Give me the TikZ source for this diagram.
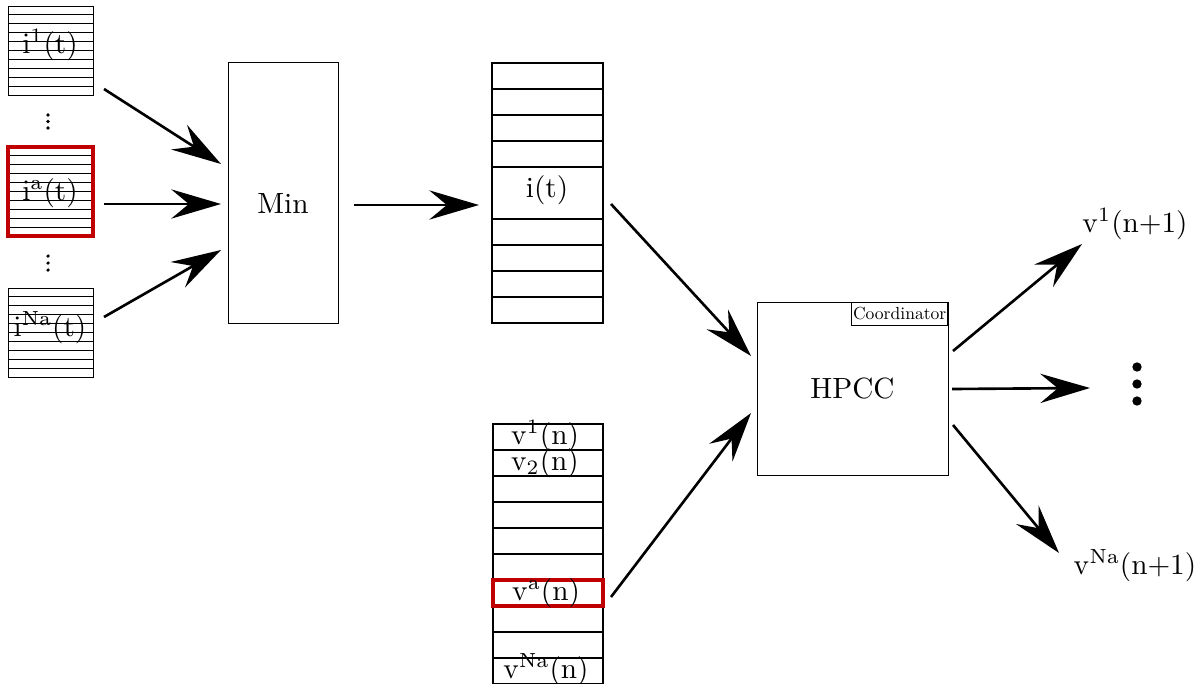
\documentclass[tikz,border=0pt]{standalone}
\usetikzlibrary{arrows.meta}
\definecolor{darkred}{RGB}{192,0,0}
\tikzset{
  arr/.style={line width=0.9pt,-{Stealth[length=17pt,width=10pt,inset=6pt]}},
  lbl/.style={text height=7.5pt,text depth=2.5pt,inner sep=0pt},
  mark red/.style={darkred,line width=1.2pt},
}

\begin{document}
\begin{tikzpicture}[x=0.342pt,y=-0.342pt]
\useasboundingbox (0,0) rectangle (1200,683);
% input buffers
\foreach \t/\nm/\lab/\ly in {6/inone/1/46, 147/ina/a/193, 288/inna/Na/329} {
  \draw [line width=0.3pt] (8,\t) rectangle (93,\t+89);
  \foreach \k in {1,...,9} \draw [line width=0.3pt] (8,\t+\k*8.9) -- (93,\t+\k*8.9);
  \node [lbl] (\nm) at (50,\ly) {$\mathrm{i^{\lab}(t)}$};
}
\draw [mark red] (8,147) rectangle (93,236);
\foreach \y in {115,121.5,128,256,263,270} \fill (48,\y) circle [radius=0.6pt];
% min block
\draw [line width=0.3pt] (228,62) rectangle (338,323);
\node (min) at (283,204) {Min};
% i(t) buffer
\draw (492,63) rectangle (603,323);
\foreach \y in {89,115,141,167,219,245,271,297} \draw (492,\y) -- (603,\y);
\node [lbl] (it) at (547,190) {i(t)};
% v buffer
\draw (493,424) rectangle (603,684);
\foreach \k in {1,...,9} \draw (493,424+\k*26) -- (603,424+\k*26);
\draw [mark red] (493,580) rectangle (603,606);
\node [lbl] (vone) at (545,437) {$\mathrm{v^{1}(n)}$};
\node [lbl] (vtwo) at (545,463) {$\mathrm{v_{2}(n)}$};
\node [lbl] (va) at (546,593) {$\mathrm{v^{a}(n)}$};
\node [lbl] (vna) at (546,671) {$\mathrm{v^{Na}(n)}$};
% hpcc
\draw [line width=0.3pt] (757,302) rectangle (948,475);
\node (hpcc) at (852.5,389) {HPCC};
\node [draw,anchor=north east,scale=0.6,inner xsep=0.8pt,inner ysep=3pt] (coord) at (948,302) {Coordinator};
% outputs
\node [lbl] (outone) at (1135,225) {$\mathrm{v^{1}(n{+}1)}$};
\node [lbl] (outna) at (1135,567) {$\mathrm{v^{Na}(n{+}1)}$};
\foreach \y in {367,384,401} \fill (1137,\y) circle [radius=1.6pt];
% arrows
\coordinate (a1) at (104,89);  \coordinate (b1) at (221,164);
\coordinate (a2) at (104,204); \coordinate (b2) at (221,204);
\coordinate (a3) at (104,317); \coordinate (b3) at (221,250);
\coordinate (c1) at (354,205); \coordinate (d1) at (479,205);
\coordinate (e1) at (611,204); \coordinate (f1) at (751,356);
\coordinate (e2) at (611,597); \coordinate (f2) at (751,413);
\coordinate (g1) at (953,351); \coordinate (h1) at (1082,244);
\coordinate (g2) at (952,389); \coordinate (h2) at (1090,388);
\coordinate (g3) at (953,425); \coordinate (h3) at (1059,553);
\foreach \s/\e in {a1/b1,a2/b2,a3/b3,c1/d1,e1/f1,e2/f2,g1/h1,g2/h2,g3/h3}
  \draw [arr] (\s) -- (\e);
\end{tikzpicture}
\end{document}
